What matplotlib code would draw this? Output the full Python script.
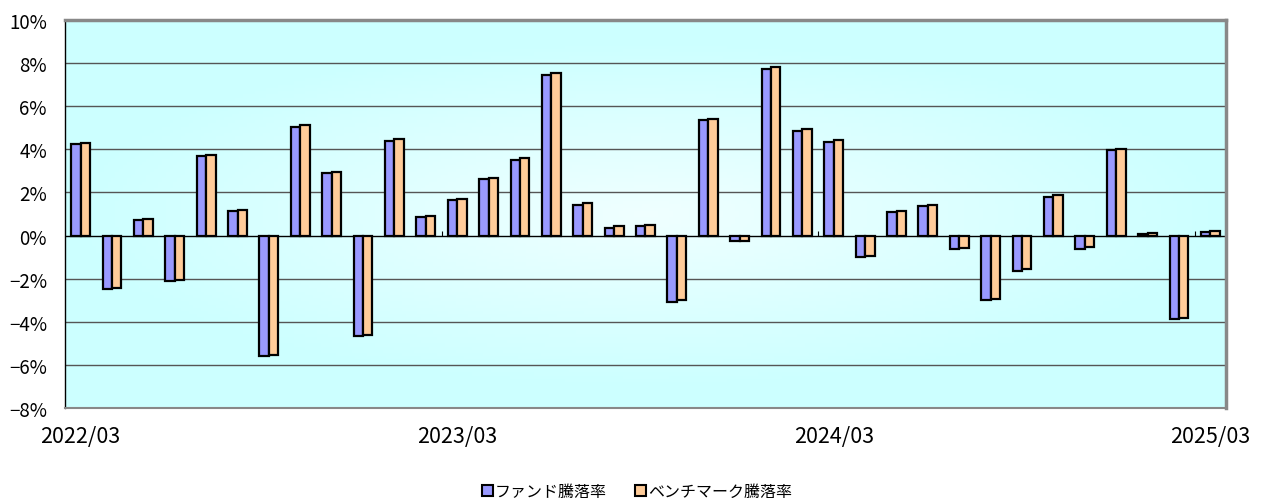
import numpy as np
import matplotlib
matplotlib.use("Agg")
import matplotlib.pyplot as plt
from matplotlib.patches import Patch

plt.rcParams['font.family'] = ['Noto Sans CJK JP', 'DejaVu Sans']

months = []
for y in range(2022, 2026):
    for m in range(1, 13):
        if (y, m) >= (2022, 3) and (y, m) <= (2025, 3):
            months.append(f"{y}/{m:02d}")

fund = [4.24, -2.47, 0.72, -2.10, 3.67, 1.14, -5.57, 5.06, 2.89, -4.64,
        4.40, 0.87, 1.63, 2.64, 3.53, 7.45, 1.44, 0.35, 0.46, -3.07,
        5.37, -0.27, 7.75, 4.87, 4.36, -0.99, 1.08, 1.38, -0.63, -2.98,
        -1.64, 1.81, -0.60, 3.96, 0.08, -3.86, 0.15]
bench = [4.29, -2.43, 0.77, -2.08, 3.73, 1.20, -5.52, 5.11, 2.95, -4.60,
         4.46, 0.93, 1.69, 2.68, 3.59, 7.55, 1.50, 0.43, 0.51, -3.00,
         5.43, -0.25, 7.81, 4.93, 4.44, -0.94, 1.15, 1.44, -0.57, -2.93,
         -1.57, 1.87, -0.54, 4.02, 0.12, -3.81, 0.23]

shown_labels = ["2022/03", "2023/03", "2024/03", "2025/03"]

fund_color = "#9999FF"
bench_color = "#FFCC99"

fig = plt.figure(figsize=(12.66, 5.02), dpi=100)
ax = fig.add_axes([0.0513, 0.1853, 0.9171, 0.7727])

n = len(months)
x = np.arange(n)
width = 0.3

# background gradient: light in the centre, cyan towards the edges
gx, gy = np.meshgrid(np.linspace(-1, 1, 300), np.linspace(-1, 1, 120))
d = np.clip(np.sqrt((gx / 1.0) ** 2 + (gy / 0.9) ** 2), 0, 1)
light = np.array([0.94, 1.0, 1.0])
edge = np.array([0.80, 1.0, 1.0])
img = light[None, None, :] * (1 - d[..., None]) + edge[None, None, :] * d[..., None]
ax.imshow(img, extent=[-0.5, n - 0.5, -8, 10], aspect="auto", zorder=0)

ax.set_xlim(-0.5, n - 0.5)
ax.set_ylim(-8, 10)

for v in range(-6, 10, 2):
    if v != 0:
        ax.axhline(v, color="#555555", lw=1.0, zorder=1)

ax.bar(x - width / 2, fund, width, color=fund_color, edgecolor="black",
       linewidth=1.6, zorder=3, label="ファンド騰落率")
ax.bar(x + width / 2, bench, width, color=bench_color, edgecolor="black",
       linewidth=1.6, zorder=3, label="ベンチマーク騰落率")

ax.axhline(0, color="black", lw=1.0, zorder=2)
ax.vlines(np.arange(11.5, n, 12), 0, 0.22, color="black", lw=0.8, zorder=2)

ax.set_yticks(range(-8, 11, 2))
ax.set_yticklabels([f"{v}%".replace("-", "−") for v in range(-8, 11, 2)],
                   fontsize=13.5)
tick_pos = [months.index(s) for s in shown_labels]
ax.set_xticks(tick_pos)
ax.set_xticklabels(shown_labels, fontsize=15.5)
ax.tick_params(axis="both", length=0)
ax.tick_params(axis="x", pad=12)
ax.tick_params(axis="y", pad=13)

for s in ["top", "right"]:
    ax.spines[s].set_color("#888888")
    ax.spines[s].set_linewidth(2.5)
ax.spines["bottom"].set_color("#888888")
ax.spines["bottom"].set_linewidth(1.5)
ax.spines["left"].set_color("black")
ax.spines["left"].set_linewidth(1.0)

handles = [Patch(facecolor=fund_color, edgecolor="black", linewidth=1.5),
           Patch(facecolor=bench_color, edgecolor="black", linewidth=1.5)]
fig.legend(handles, ["ファンド騰落率", "ベンチマーク騰落率"], loc="center",
           bbox_to_anchor=(0.503, 0.018), ncol=2, frameon=False, fontsize=11.5,
           handlelength=0.7, handleheight=0.7, handletextpad=0.1,
           columnspacing=1.8)

fig.savefig("out.png", dpi=100)
